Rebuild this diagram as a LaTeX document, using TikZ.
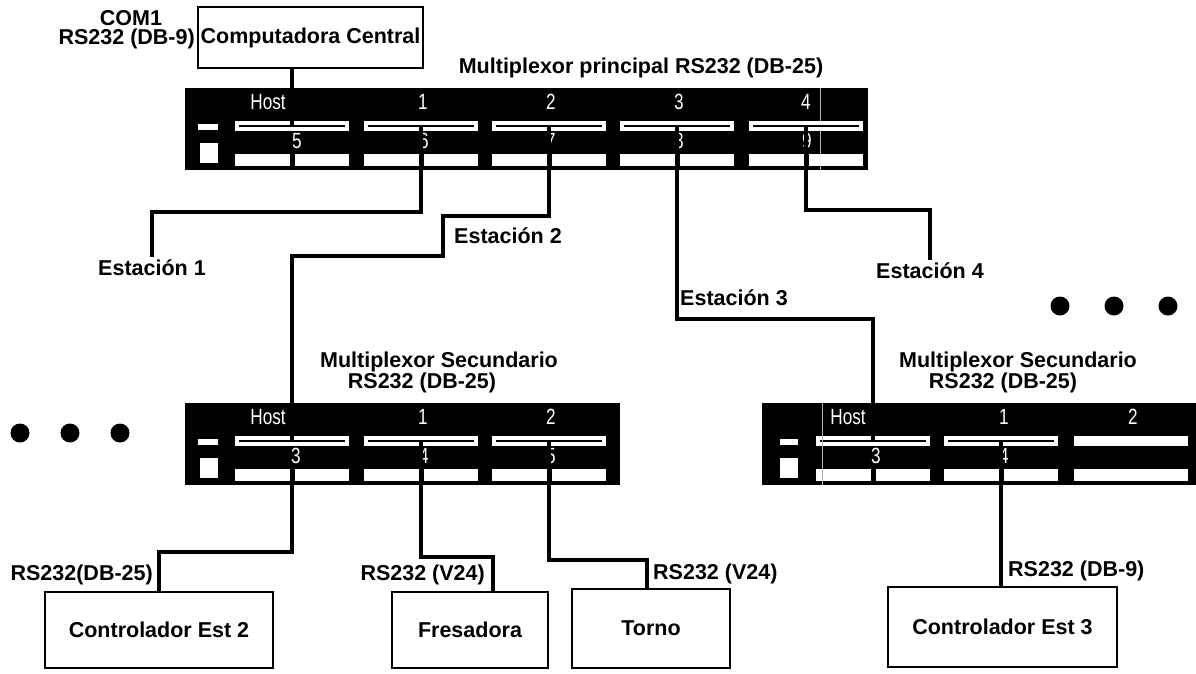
\documentclass[tikz,border=0pt]{standalone}
\usepackage{fontspec}
\setmainfont{Liberation Sans}
\newfontfamily\panelfont[FakeStretch=0.78]{Liberation Sans}
\usetikzlibrary{calc}
\begin{document}
\begin{tikzpicture}[x=1pt,y=-1pt,
  lbl/.style={font=\bfseries\fontsize{21.5}{24}\selectfont, inner sep=0pt},
  estlbl/.style={lbl, inner sep=3pt},
  twolbl/.style={lbl, align=center, font=\bfseries\fontsize{21.5}{19}\selectfont},
  devbox/.style={draw, line width=2pt, inner sep=0pt, font=\bfseries\fontsize{21.5}{24}\selectfont},
  panel/.style={fill=black, inner sep=0pt, anchor=north west},
  plab/.style={text=white, font=\panelfont\fontsize{22}{24}\selectfont, inner sep=0pt},
  topslot/.style={fill=white, inner sep=0pt, minimum width=114pt, minimum height=10pt,
    path picture={\fill[black] ($(path picture bounding box.south west)+(4pt,3.8pt)$) rectangle ($(path picture bounding box.north east)+(-4pt,-3.8pt)$);}},
  plainslot/.style={fill=white, inner sep=0pt, minimum width=114pt, minimum height=10pt},
  botslot/.style={fill=white, inner sep=0pt, minimum width=114pt, minimum height=12pt,
    path picture={\fill[black] ($(path picture bounding box.center)+(-2.5pt,-8pt)$) rectangle ($(path picture bounding box.center)+(2.5pt,8pt)$);}},
  wire/.style={line width=4pt, line join=miter},
  dot/.style={fill=black}
]
\useasboundingbox (0,0) rectangle (1196,673);

% ---------- Central computer ----------
\node[devbox, minimum width=225pt, minimum height=61pt, line width=2.5pt] (cc) at (310.5,37.5) {Computadora Central};
\node[lbl] (com1) at (131,18) {COM1};
\node[lbl, anchor=east] (ccrs) at (195,39) {RS232 (DB-9)};

% ---------- Main multiplexer ----------
\node[lbl] (mptitle) at (641,68) {Multiplexor principal RS232 (DB-25)};
\node[panel, minimum width=683pt, minimum height=82pt] (mp) at (185,88) {};
\fill[white] (198,124) rectangle (218,130);
\fill[white] (200,143) rectangle (218,163);
\draw[gray!60, line width=0.7pt] (820,88) -- (820,170);
\foreach \n/\x in {H/292,1/421,2/549,3/677,4/806}{
  \node[topslot] (m\n) at (\x,126) {};
}
\foreach \n/\x in {5/292,6/421,7/549,8/677,9/806}{
  \node[botslot] (mb\n) at (\x,160) {};
}
\node[plab] (mlH) at (268,102) {Host};
\node[plab] (ml1) at (423,102) {1};
\node[plab] (ml2) at (551,102) {2};
\node[plab] (ml3) at (679,102) {3};
\node[plab] (ml4) at (806,102) {4};
\node[plab] (ml5) at (297,141) {5};
\node[plab] (ml6) at (424,141) {6};
\node[plab] (ml7) at (551,141) {7};
\node[plab] (ml8) at (679,141) {8};
\node[plab] (ml9) at (807,141) {9};

% ---------- Left secondary multiplexer ----------
\node[twolbl] (sltitle) at (439,372) {Multiplexor Secundario\\RS232 (DB-25)\hspace*{34pt}};
\node[panel, minimum width=435pt, minimum height=82pt] (sp) at (185,403) {};
\fill[white] (198,439) rectangle (218,445);
\fill[white] (200,458) rectangle (218,478);
\node[topslot] (sH) at (292,441) {};
\node[topslot] (s1) at (421,441) {};
\node[topslot] (s2) at (549,441) {};
\node[botslot] (sb3) at (292,475) {};
\node[botslot] (sb4) at (421,475) {};
\node[botslot] (sb5) at (549,475) {};
\node[plab] (slH) at (268,417) {Host};
\node[plab] (sl1) at (423,417) {1};
\node[plab] (sl2) at (551,417) {2};
\node[plab] (sl3) at (296,456) {3};
\node[plab] (sl4) at (424,456) {4};
\node[plab] (sl5) at (551,456) {5};

% ---------- Right secondary multiplexer ----------
\node[twolbl] (srtitle) at (1018,372) {Multiplexor Secundario\\RS232 (DB-25)\hspace*{30pt}};
\node[panel, minimum width=434pt, minimum height=82pt] (rp) at (762,403) {};
\fill[white] (780,439) rectangle (798,445);
\fill[white] (780,458) rectangle (798,478);
\node[topslot] (rH) at (873,441) {};
\node[topslot] (r1) at (1001,441) {};
\node[plainslot] (r2) at (1131,441) {};
\node[botslot] (rb3) at (873,475) {};
\node[botslot] (rb4) at (1001,475) {};
\node[plainslot, minimum height=12pt] (rb5) at (1131,475) {};
\draw[gray!60, line width=0.7pt] (822,403) -- (822,485);
\node[plab] (rlH) at (848,417) {Host};
\node[plab] (rl1) at (1004,417) {1};
\node[plab] (rl2) at (1133,417) {2};
\node[plab] (rl3) at (876,456) {3};
\node[plab] (rl4) at (1004,456) {4};

% ---------- Station labels ----------
\node[estlbl] (e1) at (152,268) {Estación 1};
\node[lbl, anchor=west] (e2) at (454,236) {Estación 2};
\node[lbl, anchor=west] (e3) at (680,298) {Estación 3};
\node[estlbl] (e4) at (930,271) {Estación 4};

% ---------- End devices ----------
\node[devbox, minimum width=228pt, minimum height=76pt] (ce2) at (159,630) {Controlador Est 2};
\node[devbox, minimum width=156pt, minimum height=76pt] (fre) at (470,630) {Fresadora};
\node[devbox, minimum width=158pt, minimum height=79pt] (tor) at (651,628.5) {Torno};
\node[devbox, minimum width=229pt, minimum height=80pt] (ce3) at (1002.5,627) {Controlador Est 3};
\node[lbl, anchor=east] (rs1) at (153,575) {RS232(DB-25)};
\node[lbl, anchor=east] (rs2) at (485,575) {RS232 (V24)};
\node[lbl, anchor=west] (rs3) at (653,574) {RS232 (V24)};
\node[lbl, anchor=west] (rs4) at (1008,571) {RS232 (DB-9)};

% ---------- Dots ----------
\foreach \i/\x in {1/1060,2/1114,3/1168}{ \fill[dot] (\x,306) circle (9.5pt); }
\foreach \i/\x in {1/20,2/70,3/120}{ \fill[dot] (\x,433) circle (9.5pt); }

% ---------- Wires ----------
\coordinate (k1) at (152,212);
\coordinate (k2a) at (443,216);
\coordinate (k2b) at (292,256);
\coordinate (k3) at (873,319);
\coordinate (k4) at (930,210);
\coordinate (k5) at (159,552);
\coordinate (k6) at (493,557);
\coordinate (k7) at (647,560);

\draw[wire] (mH.center) -- (mH.center |- cc.south);
\draw[wire] (m1.center) |- (k1) -- (e1.north);
\draw[wire] (m2.center) |- (k2a) |- (k2b) -- (sH.center);
\draw[wire] (m3.center) |- (k3) -- (rH.center);
\draw[wire] (m4.center) |- (k4) -- (e4.north);
\draw[wire] (sb3.center) |- (k5) -- (ce2.north);
\draw[wire] (s1.center) |- (k6) -- (k6 |- fre.north);
\draw[wire] (s2.center) |- (k7) -- (k7 |- tor.north);
\draw[wire] (r1.center) -- (r1.center |- ce3.north);
\end{tikzpicture}
\end{document}
